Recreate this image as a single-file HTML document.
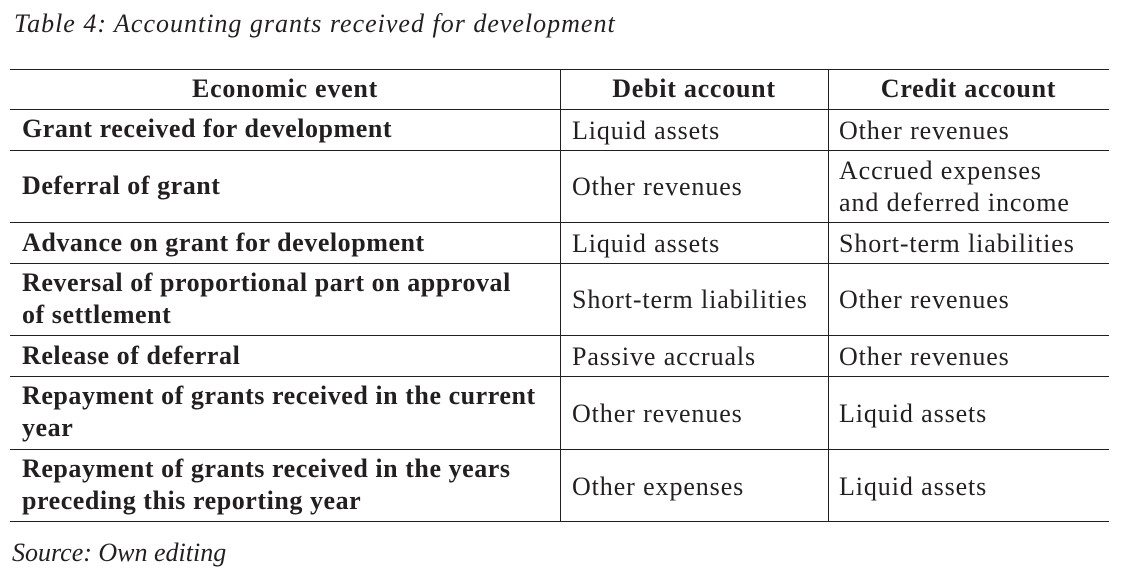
<!DOCTYPE html>
<html><head><style>
html,body{margin:0;padding:0;background:#fff;width:1121px;height:584px;overflow:hidden;position:relative;font-family:"Liberation Serif",serif;color:#231f20}
.t{position:absolute;white-space:nowrap;font-size:26px;line-height:32px;letter-spacing:0.9px}
.b{font-weight:bold;letter-spacing:0.55px}
.i{font-style:italic;letter-spacing:1px}
.h{position:absolute;left:10px;width:1099px;height:1px;background:#231f20}
.v{position:absolute;width:1px;background:#231f20;top:69px;height:453px}
</style></head><body>
<div class="t i" style="left:14px;top:8px;font-size:26px">Table 4: Accounting grants received for development</div>
<div class="h" style="top:69px"></div>
<div class="h" style="top:109px"></div>
<div class="h" style="top:150px"></div>
<div class="h" style="top:222px"></div>
<div class="h" style="top:263px"></div>
<div class="h" style="top:335px"></div>
<div class="h" style="top:376px"></div>
<div class="h" style="top:449px"></div>
<div class="h" style="top:521px"></div>
<div class="v" style="left:560px"></div>
<div class="v" style="left:828px"></div>

<div class="t b" style="left:10px;width:550px;text-align:center;top:73px;letter-spacing:0.75px">Economic event</div>
<div class="t b" style="left:560px;width:268px;text-align:center;top:73px;letter-spacing:0.75px">Debit account</div>
<div class="t b" style="left:828px;width:281px;text-align:center;top:73px;letter-spacing:0.75px">Credit account</div>

<div class="t b" style="left:22px;top:113px">Grant received for development</div>
<div class="t" style="left:572px;top:115px">Liquid assets</div>
<div class="t" style="left:839px;top:115px">Other revenues</div>

<div class="t b" style="left:22px;top:170px">Deferral of grant</div>
<div class="t" style="left:572px;top:171px">Other revenues</div>
<div class="t" style="left:839px;top:155px">Accrued expenses</div>
<div class="t" style="left:839px;top:187px">and deferred income</div>

<div class="t b" style="left:22px;top:227px">Advance on grant for development</div>
<div class="t" style="left:572px;top:228px">Liquid assets</div>
<div class="t" style="left:839px;top:228px">Short-term liabilities</div>

<div class="t b" style="left:22px;top:267px">Reversal of proportional part on approval</div>
<div class="t b" style="left:22px;top:299px">of settlement</div>
<div class="t" style="left:572px;top:284px">Short-term liabilities</div>
<div class="t" style="left:839px;top:284px">Other revenues</div>

<div class="t b" style="left:22px;top:340px">Release of deferral</div>
<div class="t" style="left:572px;top:341px">Passive accruals</div>
<div class="t" style="left:839px;top:341px">Other revenues</div>

<div class="t b" style="left:22px;top:380px">Repayment of grants received in the current</div>
<div class="t b" style="left:22px;top:412px">year</div>
<div class="t" style="left:572px;top:398px">Other revenues</div>
<div class="t" style="left:839px;top:398px">Liquid assets</div>

<div class="t b" style="left:22px;top:453px">Repayment of grants received in the years</div>
<div class="t b" style="left:22px;top:485px">preceding this reporting year</div>
<div class="t" style="left:572px;top:471px">Other expenses</div>
<div class="t" style="left:839px;top:471px">Liquid assets</div>

<div class="t i" style="left:12px;top:537px;letter-spacing:0">Source: Own editing</div>
</body></html>
